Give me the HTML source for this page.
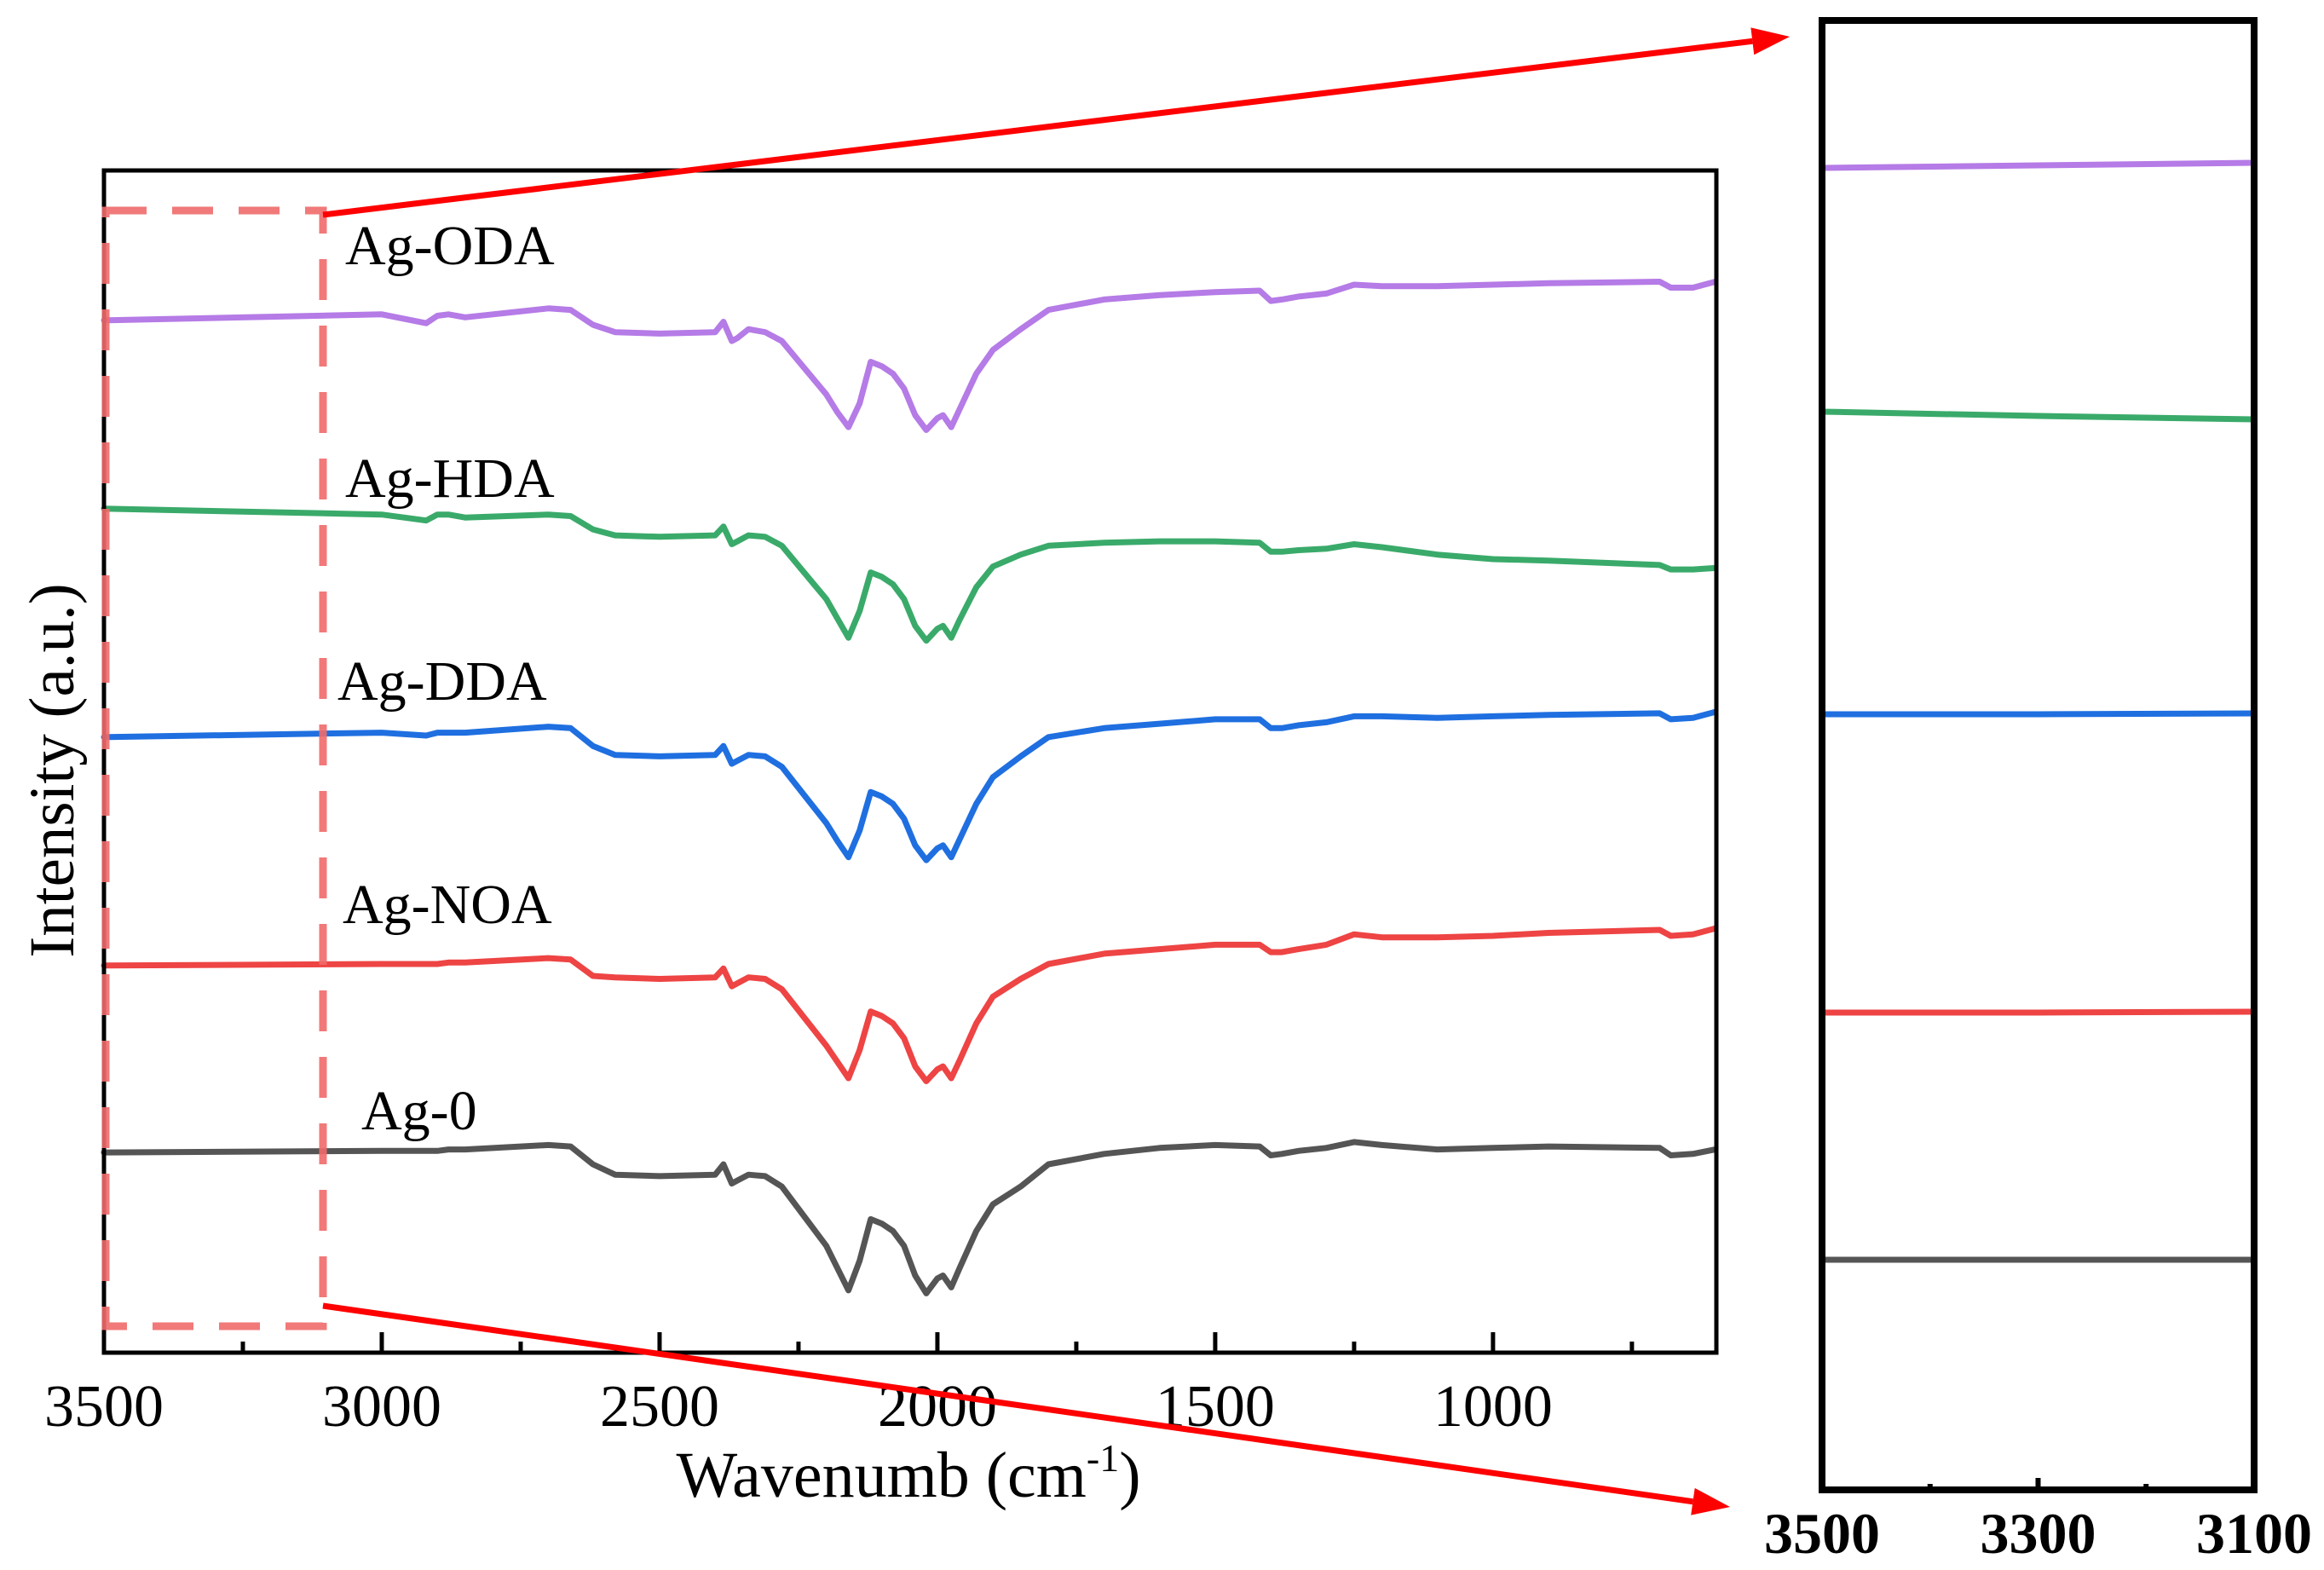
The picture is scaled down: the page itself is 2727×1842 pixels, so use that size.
<!DOCTYPE html>
<html><head><meta charset="utf-8">
<style>
html,body{margin:0;padding:0;background:#fff;}
svg{display:block;}
text{font-family:"Liberation Serif","DejaVu Serif",serif;}
</style></head>
<body>
<svg id="chart" width="2727" height="1842" viewBox="0 0 2727 1842" xmlns="http://www.w3.org/2000/svg"></svg>
<script>
const wavenumbers = [3500,3000,2920,2900,2880,2850,2700,2660,2620,2580,2500,2400,2385,2370,2360,2340,2310,2280,2240,2200,2180,2160,2140,2120,2100,2080,2060,2040,2020,2000,1990,1975,1960,1930,1900,1850,1800,1700,1600,1500,1420,1400,1380,1350,1300,1250,1200,1100,1000,900,700,680,640,600];
const seriesNames = ["Ag-ODA","Ag-HDA","Ag-DDA","Ag-NOA","Ag-0"];
const agODA = [696,700,694,699,700,698,704,703,693,688,687,688,695,682,684,690,688,682,664,646,634,624,640,668,665,660,650,632,622,630,632,624,636,660,676,690,703,710,713,715,716,709,710,712,714,720,719,719,720,721,722,718,718,722];
const agHDA = [569,565,561,565,565,563,565,564,555,551,550,551,557,545,547,551,550,544,526,508,495,482,500,526,523,518,508,490,480,488,490,482,494,516,530,538,544,546,547,547,546,540,540,541,542,545,543,538,535,534,531,528,528,529];
const agDDA = [415,418,416,418,418,418,422,421,409,403,402,403,409,397,399,403,402,395,376,357,345,334,352,378,375,370,360,342,332,340,342,334,346,370,388,402,415,421,424,427,427,421,421,423,425,429,429,428,429,430,431,427,428,432];
const agNOA = [261,262,262,262,263,263,266,265,254,253,252,253,259,247,249,253,252,245,226,207,196,185,204,230,227,222,212,193,183,191,193,185,197,222,240,252,262,269,272,275,275,270,270,272,275,282,280,280,281,283,285,281,282,286];
const ag0 = [135,136,136,136,137,137,140,139,127,120,119,120,127,114,116,120,119,112,92,72,57,42,62,90,87,82,72,52,40,50,52,44,57,82,100,112,127,134,138,140,139,133,134,136,138,142,140,137,138,139,138,133,134,137];
const xTicks = [3500,3000,2500,2000,1500,1000];
const xMinorTicks = [3250,2750,2250,1750,1250,750];
const insetWavenumbers = [3500,3300,3100];
const insetODA = [1551,1554,1557];
const insetHDA = [1265,1260,1256];
const insetDDA = [910,910,911];
const insetNOA = [560,560,561];
const inset0 = [270,270,270];
const insetTicks = [3500,3300,3100];
const insetMinorTicks = [3400,3200];

const NS="http://www.w3.org/2000/svg";
const svg=document.getElementById('chart');
function mk(tag,attrs,parent){const e=document.createElementNS(NS,tag);for(const k in attrs)e.setAttribute(k,attrs[k]);(parent||svg).appendChild(e);return e;}

const L=122,R=2014,T=200,B=1587;
const xS=w=>L+(3500-w)*(R-L)/(3500-598);
const yS=v=>B-v*(B-T)/797;
const colors=["#b57be6","#3aaa6a","#1f6fe0","#ee4444","#555555"];
const data=[agODA,agHDA,agDDA,agNOA,ag0];
const slugs=["ag-oda","ag-hda","ag-dda","ag-noa","ag-0"];

data.forEach((arr,i)=>{
  const d=arr.map((v,j)=>(j?'L':'M')+xS(wavenumbers[j]).toFixed(1)+','+yS(v).toFixed(1)).join(' ');
  const p=mk('path',{d:d,fill:'none',stroke:colors[i],'stroke-width':7,'stroke-linejoin':'round','stroke-linecap':'round'});
  
  
});

const frame=mk('rect',{x:L,y:T,width:R-L,height:B-T,fill:'none',stroke:'#000','stroke-width':5});



xTicks.forEach(t=>{
  const x=xS(t);
  const tk=mk('line',{x1:x,x2:x,y1:B,y2:B-24,stroke:'#000','stroke-width':5});
  
  
  const tx=mk('text',{x:x,y:1673,'font-size':70,'text-anchor':'middle',fill:'#000'});
  tx.textContent=t;
  
  
});
xMinorTicks.forEach(t=>{
  const x=xS(t);
  const tk=mk('line',{x1:x,x2:x,y1:B,y2:B-13,stroke:'#000','stroke-width':5});
  
  
});

const labelPos=[[405,310],[405,583],[396,821],[402,1083],[424,1325]];
seriesNames.forEach((n,i)=>{
  const t=mk('text',{x:labelPos[i][0],y:labelPos[i][1],'font-size':66,fill:'#000'});
  t.textContent=n;
  
  
});

const xt=mk('text',{x:1066,y:1756,'font-size':76,'text-anchor':'middle',fill:'#000'});
xt.innerHTML='Wavenumb (cm<tspan font-size="46" dy="-30">-1</tspan><tspan dy="30">)</tspan>';


const yt=mk('text',{x:0,y:0,'font-size':75,'text-anchor':'middle',fill:'#000',transform:'translate(86,904) rotate(-90)'});
yt.textContent='Intensity (a.u.)';



const zb=mk('rect',{x:124,y:247,width:255,height:1309,fill:'none',stroke:'#f06a6a','stroke-width':9,'stroke-dasharray':'48,30','stroke-opacity':0.9});



function arrow(x1,y1,x2,y2,name){
  const g=mk('g',{});
  
  
  const dx=x2-x1,dy=y2-y1,len=Math.hypot(dx,dy),ux=dx/len,uy=dy/len;
  const hl=44,hw=16;
  const bx=x2-ux*hl,by=y2-uy*hl;
  mk('line',{x1:x1,y1:y1,x2:bx,y2:by,stroke:'#ff0000','stroke-width':7},g);
  mk('polygon',{points:`${x2},${y2} ${bx-uy*hw},${by+ux*hw} ${bx+uy*hw},${by-ux*hw}`,fill:'#ff0000'},g);
}
arrow(379,252,2100,43,'zoom-arrow-top');
arrow(379,1532,2030,1768,'zoom-arrow-bottom');

const IL=2138,IR=2645,IT=24,IB=1748;
const ixS=w=>IL+(3500-w)*(IR-IL)/400;
const iyS=v=>IB-v;
const idata=[insetODA,insetHDA,insetDDA,insetNOA,inset0];
idata.forEach((arr,i)=>{
  const d=arr.map((v,j)=>(j?'L':'M')+ixS(insetWavenumbers[j]).toFixed(1)+','+iyS(v).toFixed(1)).join(' ');
  const p=mk('path',{d:d,fill:'none',stroke:colors[i],'stroke-width':7});
  
  
});
const iframe=mk('rect',{x:IL,y:IT,width:IR-IL,height:IB-IT,fill:'none',stroke:'#000','stroke-width':8});


insetTicks.forEach(t=>{
  const x=ixS(t);
  const tk=mk('line',{x1:x,x2:x,y1:IB,y2:IB-14,stroke:'#000','stroke-width':6});
  
  
  const tx=mk('text',{x:x,y:1822,'font-size':68,'font-weight':'bold','text-anchor':'middle',fill:'#000'});
  tx.textContent=t;
  
  
});
insetMinorTicks.forEach(t=>{
  const x=ixS(t);
  const tk=mk('line',{x1:x,x2:x,y1:IB,y2:IB-7,stroke:'#000','stroke-width':6});
  
  
});
</script>
</body></html>
